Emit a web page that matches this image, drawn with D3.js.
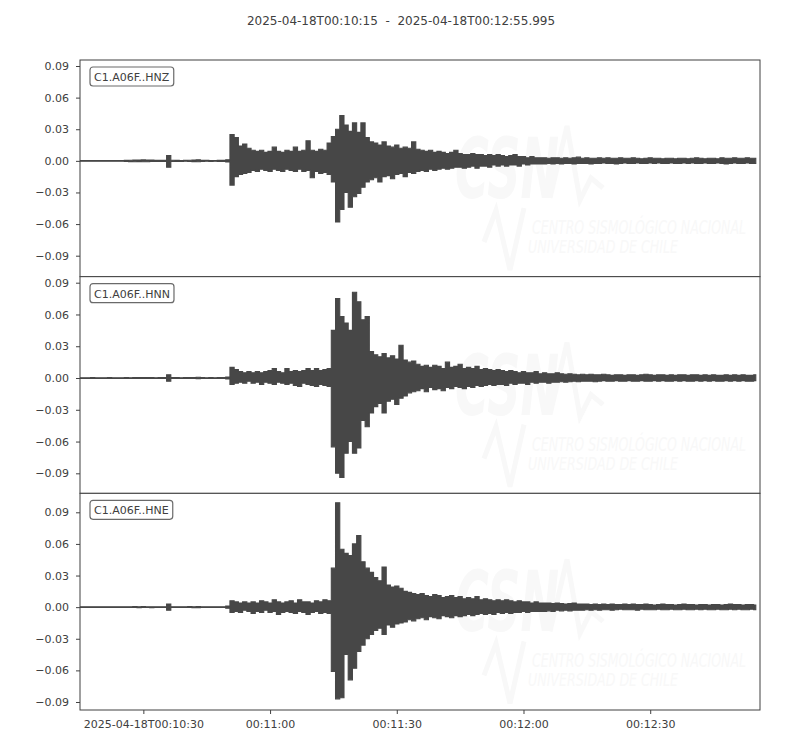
<!DOCTYPE html>
<html>
<head>
<meta charset="utf-8">
<script src="https://cdn.jsdelivr.net/npm/d3@7"></script>
<style>
  body { margin: 0; background: #fff; }
  svg text { font-family: "DejaVu Sans", sans-serif; }
</style>
</head>
<body>
<div id="wrapper"></div>
<script>
// stream window
const startTime = "2025-04-18T00:10:15.000Z";
const endTime = "2025-04-18T00:12:55.995Z";
const traceIds = ["C1.A06F..HNZ", "C1.A06F..HNN", "C1.A06F..HNE"];

// max / min of each trace for every second after startTime, in units of 1e-3
const hnzUpper = [
  0.3, 0.3, 0.4, 0.3, 0.3, 0.4, 0.3, 0.3, 0.4, 0.3,
  0.4, 0.5, 0.6, 0.8, 0.7, 0.9, 0.8, 0.7, 0.6, 0.5,
  0.5, 5, 0.6, 0.5, 0.4, 0.5, 0.6, 0.8, 1, 0.5,
  0.5, 0.4, 0.4, 0.5, 0.6, 1, 25, 22, 14, 16,
  12, 10, 9, 10, 8, 9, 13, 9, 8, 10,
  9, 13, 9, 10, 19, 10, 9, 11, 10, 17,
  23, 30, 43, 34, 28, 36, 27, 36, 22, 18,
  17, 15, 18, 14, 13, 15, 12, 13, 12, 18,
  11, 10, 9, 10, 8, 9, 8, 7, 8, 10,
  7, 6, 6, 7, 6, 6, 5, 6, 5, 6,
  5, 4, 5, 6, 4, 4, 3, 4, 3, 3,
  3, 2.5, 3, 3, 2.5, 3, 2.5, 3, 3.5, 2.5,
  3, 2.5, 2.5, 3, 2.5, 3, 2.5, 2.5, 3, 2.5,
  2.5, 3, 2.5, 2, 2.5, 3, 2.5, 2.5, 2, 2.5,
  2.5, 2, 2.5, 2.5, 2, 2.5, 3, 2.5, 2, 2.5,
  2.5, 2, 3, 2.5, 2.5, 3, 2.5, 2.5, 3, 2.5, 2.5,
];
const hnzLower = [
  -0.3, -0.4, -0.3, -0.3, -0.4, -0.3, -0.3, -0.4, -0.3, -0.3,
  -0.4, -0.5, -0.7, -0.8, -0.7, -0.8, -0.9, -0.6, -0.5, -0.5,
  -0.5, -6, -0.6, -0.5, -0.5, -0.4, -0.6, -0.7, -0.9, -0.5,
  -0.4, -0.5, -0.4, -0.5, -0.5, -1, -23, -15, -13, -12,
  -11, -9, -10, -8, -9, -10, -8, -9, -10, -8,
  -9, -10, -8, -10, -9, -16, -10, -12, -11, -13,
  -20, -58, -46, -30, -44, -34, -31, -25, -20, -18,
  -16, -20, -15, -14, -17, -13, -12, -15, -11, -12,
  -10, -9, -10, -8, -9, -8, -7, -8, -7, -6,
  -6, -7, -6, -5, -7, -5, -5, -6, -4, -5,
  -4, -5, -4, -4, -5, -3, -4, -3, -3, -3,
  -3, -2.5, -3, -2.5, -3, -2.5, -2.5, -3, -2.5, -2.5,
  -2.5, -3, -2.5, -2.5, -2, -2.5, -2.5, -3, -2.5, -2,
  -2.5, -2.5, -2, -2.5, -2.5, -2, -2.5, -2, -2.5, -2.5,
  -2, -2.5, -2.5, -2, -2.5, -2, -2.5, -2.5, -2, -2.5,
  -2.5, -2, -2.5, -3, -2.5, -2, -2.5, -2.5, -2, -2.5, -2.5,
];

const hnnUpper = [
  0.3, 0.3, 0.3, 0.4, 0.3, 0.3, 0.3, 0.4, 0.3, 0.3,
  0.3, 0.4, 0.3, 0.4, 0.5, 0.4, 0.5, 0.4, 0.3, 0.4,
  0.4, 3, 0.5, 0.4, 0.3, 0.4, 0.4, 0.5, 0.7, 0.4,
  0.3, 0.4, 0.3, 0.4, 0.5, 1, 10, 8, 6, 5,
  6, 5, 6, 5, 6, 7, 9, 6, 5, 9,
  6, 7, 6, 7, 9, 7, 9, 7, 8, 9,
  45, 75, 58, 52, 45, 81, 72, 55, 58, 25,
  22, 20, 23, 19, 21, 18, 31, 17, 15, 16,
  13, 11, 12, 10, 12, 11, 9, 15, 10, 11,
  13, 9, 10, 9, 11, 8, 9, 8, 7, 8,
  7, 6, 7, 6, 5, 6, 5, 5, 6, 4,
  5, 4, 4, 5, 4, 3.5, 4, 3.5, 3, 3.5,
  3, 3.5, 3, 3, 3.5, 3, 2.5, 3, 3, 2.5,
  3, 3, 2.5, 3, 3.5, 3, 2.5, 3, 3, 2.5,
  3, 2.5, 3, 3, 2.5, 3, 3, 2.5, 3, 2.5,
  3, 2.5, 2.5, 3, 2.5, 3, 2.5, 3, 2.5, 2.5, 3,
];
const hnnLower = [
  -0.3, -0.3, -0.4, -0.3, -0.3, -0.4, -0.3, -0.3, -0.3, -0.4,
  -0.3, -0.4, -0.4, -0.3, -0.5, -0.4, -0.5, -0.4, -0.4, -0.3,
  -0.4, -3, -0.4, -0.4, -0.3, -0.4, -0.5, -0.4, -0.6, -0.4,
  -0.3, -0.4, -0.3, -0.4, -0.4, -1, -6, -5, -4, -5,
  -3, -5, -4, -6, -4, -5, -6, -4, -5, -6,
  -5, -7, -8, -5, -6, -7, -8, -6, -7, -8,
  -65, -90, -94, -71, -60, -71, -66, -40, -46, -33,
  -27, -24, -33, -22, -20, -25, -19, -17, -14, -13,
  -12, -10, -13, -9, -11, -10, -12, -9, -10, -8,
  -9, -10, -8, -9, -7, -8, -7, -6, -7, -6,
  -6, -7, -5, -6, -5, -5, -6, -4, -5, -4,
  -4, -5, -4, -4, -3.5, -4, -3.5, -3, -3.5, -3,
  -3, -3, -3.5, -3, -2.5, -3, -3, -2.5, -3, -3,
  -2.5, -3, -3, -2.5, -3, -3, -2.5, -3, -2.5, -3,
  -3, -2.5, -3, -2.5, -3, -3, -2.5, -3, -2.5, -3,
  -2.5, -3, -3, -2.5, -3, -2.5, -3, -2.5, -3, -3, -2.5,
];

const hneUpper = [
  0.3, 0.3, 0.4, 0.3, 0.3, 0.3, 0.4, 0.3, 0.3, 0.3,
  0.3, 0.4, 0.4, 0.5, 0.4, 0.5, 0.4, 0.4, 0.3, 0.4,
  0.4, 3, 0.4, 0.4, 0.3, 0.4, 0.5, 0.4, 0.6, 0.4,
  0.3, 0.4, 0.3, 0.3, 0.4, 1, 6, 5, 4, 5,
  4, 5, 4, 6, 5, 4, 7, 5, 4, 5,
  6, 4, 7, 5, 5, 4, 6, 5, 7, 6,
  37, 99, 55, 51, 49, 60, 68, 43, 37, 33,
  28, 25, 38, 21, 19, 20, 18, 15, 14, 13,
  12, 13, 11, 10, 12, 11, 9, 10, 11, 9,
  10, 8, 9, 8, 10, 7, 8, 7, 6, 7,
  6, 7, 6, 5, 6, 5, 5, 4, 5, 4,
  4, 4, 3.5, 4, 3.5, 3, 3.5, 4, 3, 3,
  3, 2.5, 3, 2.5, 3, 2.5, 3, 2.5, 2.5, 3,
  2.5, 3, 2.5, 2.5, 3, 2.5, 2, 2.5, 3, 2.5,
  2.5, 2, 2.5, 3, 2.5, 2.5, 2, 2.5, 2.5, 2,
  2.5, 2.5, 2, 2.5, 3, 2.5, 2.5, 2, 2.5, 2.5, 2,
];
const hneLower = [
  -0.3, -0.3, -0.3, -0.4, -0.3, -0.3, -0.3, -0.4, -0.3, -0.3,
  -0.4, -0.3, -0.4, -0.4, -0.5, -0.4, -0.4, -0.5, -0.3, -0.3,
  -0.4, -3, -0.4, -0.3, -0.4, -0.4, -0.4, -0.5, -0.5, -0.4,
  -0.3, -0.3, -0.4, -0.3, -0.4, -1, -5, -4, -5, -3,
  -4, -6, -4, -5, -3, -5, -4, -7, -5, -4,
  -5, -6, -4, -5, -7, -5, -4, -6, -5, -6,
  -61, -87, -86, -45, -69, -58, -42, -36, -30, -26,
  -22, -20, -26, -17, -19, -16, -15, -14, -12, -13,
  -11, -10, -12, -9, -10, -11, -8, -9, -10, -8,
  -9, -8, -7, -8, -7, -6, -7, -6, -7, -5,
  -6, -5, -6, -5, -5, -4, -5, -4, -4, -4,
  -4, -3.5, -4, -3, -3.5, -3, -3.5, -3, -3, -3,
  -2.5, -3, -2.5, -3, -2.5, -2.5, -3, -2.5, -2, -2.5,
  -2.5, -2.5, -3, -2, -2.5, -2.5, -2.5, -2, -2.5, -2.5,
  -2, -2.5, -2.5, -2, -2.5, -2.5, -2, -2.5, -2, -2.5,
  -2.5, -2, -2.5, -2.5, -2, -2.5, -2, -2.5, -2.5, -2, -2.5,
];

// y limits of each panel (1e-3 units) and shared tick values
const yLimits = [[-109.9, 95.7], [-108.9, 95.7], [-97.6, 108]];
const yTicks = [-90, -60, -30, 0, 30, 60, 90];
const xTicks = [
  "2025-04-18T00:10:30Z",
  "2025-04-18T00:11:00Z",
  "2025-04-18T00:11:30Z",
  "2025-04-18T00:12:00Z",
  "2025-04-18T00:12:30Z",
];

async function drawSeismogram() {
  const traces = [
    { id: traceIds[0], upper: hnzUpper, lower: hnzLower, ylim: yLimits[0] },
    { id: traceIds[1], upper: hnnUpper, lower: hnnLower, ylim: yLimits[1] },
    { id: traceIds[2], upper: hneUpper, lower: hneLower, ylim: yLimits[2] },
  ];

  const dimensions = {
    width: 800,
    height: 750,
    margin: { top: 60, right: 40, bottom: 40, left: 80 },
  };
  dimensions.boundedWidth = dimensions.width - dimensions.margin.left - dimensions.margin.right;
  dimensions.boundedHeight = dimensions.height - dimensions.margin.top - dimensions.margin.bottom;
  const panelHeight = dimensions.boundedHeight / traces.length;

  const ink = "#404040";
  const traceColor = "#474747";
  const markColor = "#f8f8f8";

  const t0 = new Date(startTime);
  const t1 = new Date(endTime);
  const atSecond = (s) => new Date(t0.getTime() + s * 1000);

  const svg = d3
    .select("#wrapper")
    .append("svg")
    .attr("width", dimensions.width)
    .attr("height", dimensions.height);

  const fmtStart = d3.utcFormat("%Y-%m-%dT%H:%M:%S");
  const fmtEnd = d3.utcFormat("%Y-%m-%dT%H:%M:%S.%L");
  svg
    .append("text")
    .attr("x", 401)
    .attr("y", 25)
    .attr("text-anchor", "middle")
    .attr("fill", ink)
    .style("font-size", "12px")
    .style("white-space", "pre")
    .text(`${fmtStart(t0)}  -  ${fmtEnd(t1)}`);

  const xScale = d3
    .scaleUtc()
    .domain([t0, t1])
    .range([dimensions.margin.left, dimensions.margin.left + dimensions.boundedWidth]);

  svg
    .append("defs")
    .append("clipPath")
    .attr("id", "panel-clip")
    .append("rect")
    .attr("x", dimensions.margin.left)
    .attr("width", dimensions.boundedWidth)
    .attr("height", panelHeight);

  traces.forEach((trace, i) => {
    const panel = svg
      .append("g")
      .attr("transform", `translate(0, ${dimensions.margin.top + i * panelHeight})`);

    panel
      .append("rect")
      .attr("x", dimensions.margin.left)
      .attr("width", dimensions.boundedWidth)
      .attr("height", panelHeight)
      .attr("fill", "#fff");

    // faint CSN logo behind the trace
    const logo = panel.append("g");
    logo
      .append("text")
      .attr("x", 455)
      .attr("y", 138)
      .attr("textLength", 104)
      .attr("lengthAdjust", "spacingAndGlyphs")
      .attr("fill", markColor)
      .style("font-size", "84px")
      .style("font-style", "italic")
      .style("font-weight", "bold")
      .text("CSN");
    logo
      .append("path")
      .attr("d", "M550,138 L567,66 L580,140 L591,118 L603,128")
      .attr("fill", "none")
      .attr("stroke", markColor)
      .attr("stroke-width", 5);
    logo
      .append("path")
      .attr("d", "M484,182 L496,150 L510,210 L524,148")
      .attr("fill", "none")
      .attr("stroke", markColor)
      .attr("stroke-width", 5);
    logo
      .append("text")
      .attr("x", 532)
      .attr("y", 174)
      .attr("textLength", 214)
      .attr("lengthAdjust", "spacingAndGlyphs")
      .attr("fill", markColor)
      .style("font-size", "19px")
      .style("font-style", "italic")
      .text("CENTRO SISMOLÓGICO NACIONAL");
    logo
      .append("text")
      .attr("x", 528)
      .attr("y", 193)
      .attr("textLength", 150)
      .attr("lengthAdjust", "spacingAndGlyphs")
      .attr("fill", markColor)
      .style("font-size", "17px")
      .style("font-style", "italic")
      .text("UNIVERSIDAD DE CHILE");

    const yScale = d3.scaleLinear().domain(trace.ylim).range([panelHeight, 0]);

    // min/max envelope, one peak and one trough per second
    const area = d3
      .area()
      .curve(d3.curveStep)
      .x((_, s) => xScale(atSecond(s)))
      .y0((_, s) => yScale(trace.lower[s]))
      .y1((d) => yScale(d));

    panel
      .append("path")
      .attr("clip-path", "url(#panel-clip)")
      .attr("d", area(trace.upper))
      .attr("fill", traceColor)
      .attr("stroke", traceColor)
      .attr("stroke-width", 1.1)
      .attr("stroke-linejoin", "miter");

    const yAxis = panel
      .append("g")
      .attr("transform", `translate(${dimensions.margin.left}, 0)`)
      .call(
        d3
          .axisLeft(yScale)
          .tickValues(yTicks)
          .tickSize(4)
          .tickPadding(7)
          .tickFormat((d) => d3.format(".2f")(d / 1000))
      );
    yAxis.select(".domain").remove();
    yAxis.selectAll("line").attr("stroke", ink);
    yAxis
      .selectAll("text")
      .attr("fill", ink)
      .style("font-size", "11px")
      .style("font-family", '"DejaVu Sans", sans-serif');

    panel
      .append("rect")
      .attr("x", dimensions.margin.left)
      .attr("width", dimensions.boundedWidth)
      .attr("height", panelHeight)
      .attr("fill", "none")
      .attr("stroke", ink)
      .attr("stroke-width", 1);

    const label = panel
      .append("text")
      .attr("x", 94)
      .attr("y", 21)
      .attr("fill", ink)
      .style("font-size", "11px")
      .text(trace.id);
    const box = label.node().getBBox();
    panel
      .insert("rect", () => label.node())
      .attr("x", box.x - 4)
      .attr("y", 7)
      .attr("width", box.width + 8)
      .attr("height", 19)
      .attr("rx", 3)
      .attr("fill", "#fff")
      .attr("stroke", "#6a6a6a")
      .attr("stroke-width", 1.2);

    if (i === traces.length - 1) {
      const fmtFirst = d3.utcFormat("%Y-%m-%dT%H:%M:%S");
      const fmtTick = d3.utcFormat("%H:%M:%S");
      const xAxis = panel
        .append("g")
        .attr("transform", `translate(0, ${panelHeight})`)
        .call(
          d3
            .axisBottom(xScale)
            .tickValues(xTicks.map((d) => new Date(d)))
            .tickSize(4)
            .tickPadding(6)
            .tickFormat((d, j) => (j === 0 ? fmtFirst(d) : fmtTick(d)))
        );
      xAxis.select(".domain").remove();
      xAxis.selectAll("line").attr("stroke", ink);
      xAxis
        .selectAll("text")
        .attr("fill", ink)
        .style("font-size", "11px")
        .style("font-family", '"DejaVu Sans", sans-serif');
    }
  });
}

drawSeismogram();
</script>
</body>
</html>
